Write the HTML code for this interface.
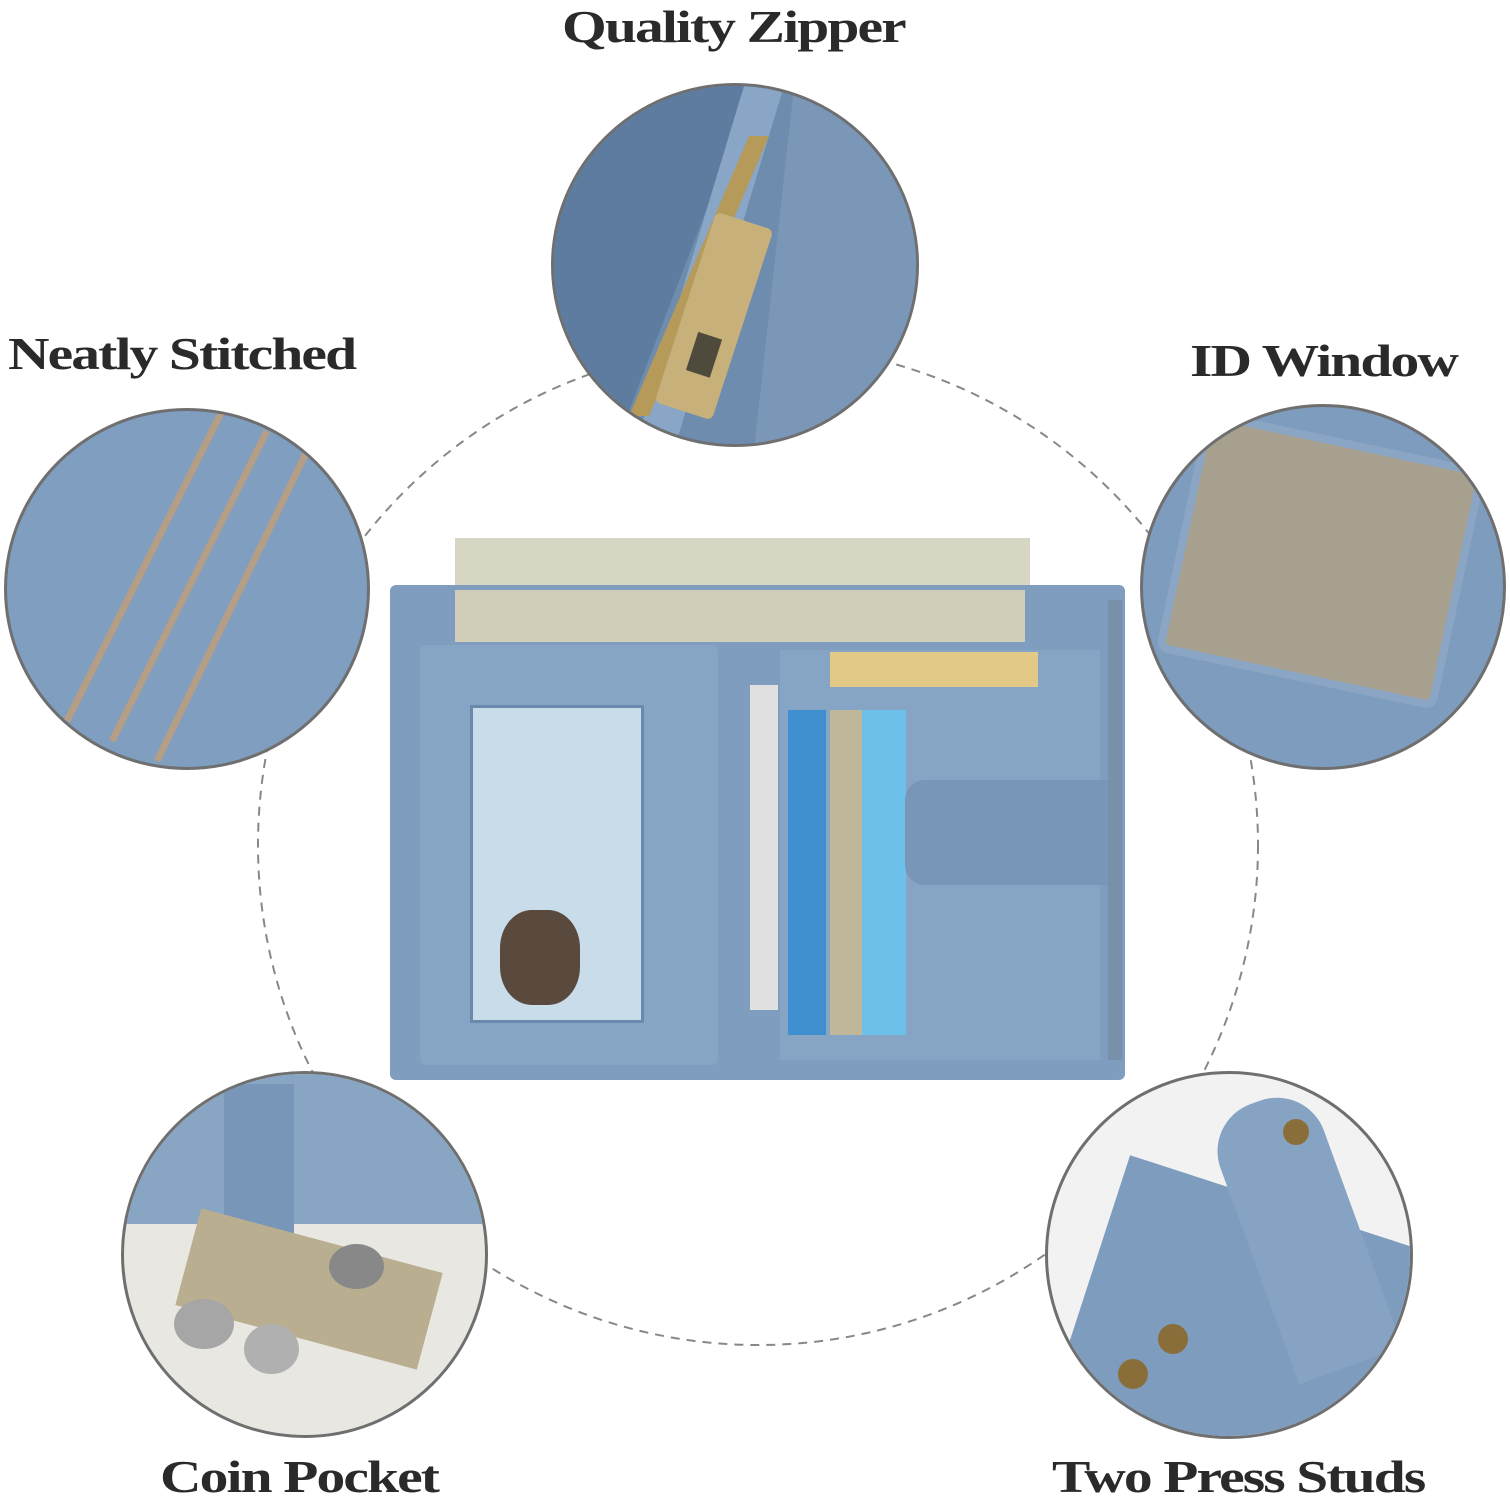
<!DOCTYPE html>
<html><head><meta charset="utf-8"><style>
html,body{margin:0;padding:0;background:#fff;}
#c{position:relative;width:1510px;height:1500px;overflow:hidden;background:#fff;font-family:"Liberation Serif",serif;}
.t{position:absolute;font-weight:bold;font-size:46px;color:#2a2a2a;letter-spacing:-1.5px;white-space:nowrap;transform:scaleX(1.25);transform-origin:0 0;}
.circ{position:absolute;border-radius:50%;border:3px solid #6f6f6f;overflow:hidden;background:#7f9dbd;box-sizing:border-box;}
.ab{position:absolute;}
</style></head><body><div id="c">
<svg class="ab" style="left:0;top:0" width="1510" height="1500">
<circle cx="758" cy="845" r="500" fill="none" stroke="#888" stroke-width="2" stroke-dasharray="9 7"/>
</svg>

<div class="t" style="left:562px;top:0px;">Quality Zipper</div>
<div class="t" style="left:8px;top:327px;">Neatly Stitched</div>
<div class="t" style="left:1190px;top:334px;">ID Window</div>
<div class="t" style="left:160px;top:1450px;">Coin Pocket</div>
<div class="t" style="left:1052px;top:1450px;">Two Press Studs</div>

<div class="circ" style="left:551px;top:83px;width:368px;height:364px;background:#6f8db0;">
 <svg width="368" height="364">
  <rect x="0" y="0" width="368" height="364" fill="#6e8cae"/>
  <path d="M0 40 L140 0 L200 0 L60 364 L0 364Z" fill="#5e7c9f"/>
  <path d="M190 0 L230 0 L120 364 L80 364Z" fill="#8aa6c6"/>
  <path d="M195 50 L215 50 L95 330 L75 330Z" fill="#b59a5a"/>
  <rect x="130" y="130" width="60" height="200" rx="6" fill="#c8b07a" transform="rotate(18 160 230)"/>
  <rect x="150" y="250" width="25" height="40" fill="#4e4a3c" transform="rotate(18 160 230)"/>
  <path d="M240 0 L368 40 L368 364 L200 364Z" fill="#7b97b8"/>
 </svg>
</div>

<div class="circ" style="left:4px;top:408px;width:366px;height:362px;background:#7f9ec0;">
 <svg width="366" height="362">
  <g stroke="#b49e86" stroke-width="7" fill="none">
   <line x1="215" y1="0" x2="60" y2="310"/>
   <line x1="260" y1="20" x2="105" y2="330"/>
   <line x1="300" y1="40" x2="150" y2="350"/>
  </g>
 </svg>
</div>

<div class="circ" style="left:1140px;top:404px;width:366px;height:366px;background:#7e9cbd;">
 <div class="ab" style="left:35px;top:30px;width:270px;height:230px;background:#a8a08f;border-radius:12px;transform:rotate(12deg);border:8px solid #8aa6c4;"></div>
</div>

<div class="circ" style="left:121px;top:1071px;width:367px;height:367px;background:#e9e7e2;">
 <div class="ab" style="left:0;top:0;width:367px;height:150px;background:#88a5c4;"></div>
 <div class="ab" style="left:100px;top:10px;width:70px;height:160px;background:#7896b8;"></div>
 <div class="ab" style="left:60px;top:165px;width:250px;height:100px;background:#b9ae8f;transform:rotate(15deg);"></div>
 <div class="ab" style="left:50px;top:225px;width:60px;height:50px;border-radius:50%;background:#a6a6a6;"></div>
 <div class="ab" style="left:120px;top:250px;width:55px;height:50px;border-radius:50%;background:#b0b0b0;"></div>
 <div class="ab" style="left:205px;top:170px;width:55px;height:45px;border-radius:50%;background:#888;"></div>
</div>

<div class="circ" style="left:1045px;top:1071px;width:368px;height:368px;background:#f2f2f2;">
 <div class="ab" style="left:30px;top:130px;width:360px;height:280px;background:#7e9cbe;transform:rotate(18deg);"></div>
 <div class="ab" style="left:200px;top:20px;width:110px;height:280px;background:#86a3c3;border-radius:50px 50px 0 0;transform:rotate(-20deg);"></div>
 <div class="ab" style="left:235px;top:45px;width:26px;height:26px;border-radius:50%;background:#8a6e3a;"></div>
 <div class="ab" style="left:110px;top:250px;width:30px;height:30px;border-radius:50%;background:#8a6e3a;"></div>
 <div class="ab" style="left:70px;top:285px;width:30px;height:30px;border-radius:50%;background:#8a6e3a;"></div>
</div>

<div class="ab" style="left:455px;top:538px;width:575px;height:105px;background:#d7d5c3;"></div>
<div class="ab" style="left:390px;top:585px;width:735px;height:495px;background:#7e9dbf;border-radius:6px;"></div>
<div class="ab" style="left:455px;top:590px;width:570px;height:52px;background:#d0cdb8;"></div>
<div class="ab" style="left:420px;top:645px;width:298px;height:420px;background:#86a4c4;border-radius:6px;"></div>
<div class="ab" style="left:470px;top:705px;width:168px;height:312px;background:#c9dcea;border:3px solid #6b89aa;"></div>
<div class="ab" style="left:500px;top:910px;width:80px;height:95px;background:#5a4a3e;border-radius:40%;"></div>
<div class="ab" style="left:780px;top:650px;width:320px;height:410px;background:#86a4c4;"></div>
<div class="ab" style="left:830px;top:652px;width:208px;height:35px;background:#e2c988;"></div>
<div class="ab" style="left:750px;top:685px;width:28px;height:325px;background:#e0e0e0;"></div>
<div class="ab" style="left:788px;top:710px;width:38px;height:325px;background:#3f8fd0;"></div>
<div class="ab" style="left:830px;top:710px;width:32px;height:325px;background:#c0b79a;"></div>
<div class="ab" style="left:862px;top:710px;width:44px;height:325px;background:#6cc0ea;"></div>
<div class="ab" style="left:905px;top:780px;width:215px;height:105px;background:#7896b8;border-radius:20px 6px 6px 20px;"></div>
<div class="ab" style="left:1108px;top:600px;width:14px;height:460px;background:#7890aa;"></div>
</div></body></html>
